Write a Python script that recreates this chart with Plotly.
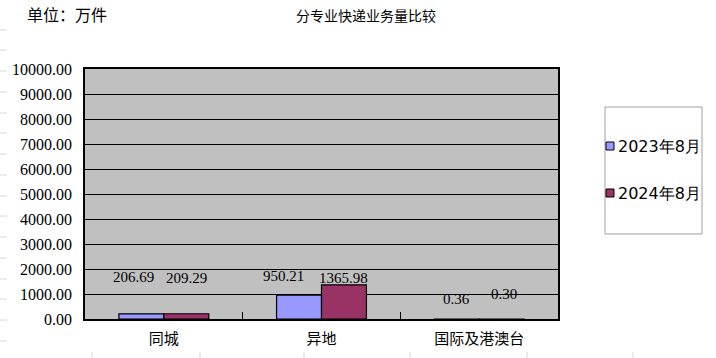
import plotly.graph_objects as go

categories = ["同城", "异地", "国际及港澳台"]
series_names = ["2023年8月", "2024年8月"]
values_2023 = [206.69, 950.21, 0.36]
values_2024 = [209.29, 1365.98, 0.30]
y_ticks = [0, 1000, 2000, 3000, 4000, 5000, 6000, 7000, 8000, 9000, 10000]

# label placement (style only)
label_y_2023 = [1690, 1730, 790]
label_y_2024 = [1630, 1640, 990]
label_dx_2023 = [-30, -38, -23]
label_dx_2024 = [23, 22, 25]

colors = ["#9999FF", "#993366"]
num_font = "Liberation Serif"
cjk_font = "Noto Sans CJK SC"

W, H = 716, 358
L, R, T, B = 85, 158, 69, 39
PW, PH = W - L - R, H - T - B


def px(x):
    return (x - L) / PW


def py(y):
    return (H - B - y) / PH


fig = go.Figure()
for i, (name, vals) in enumerate(zip(series_names, [values_2023, values_2024])):
    fig.add_trace(go.Bar(
        x=categories, y=vals, name=name, showlegend=False,
        marker=dict(color=colors[i], line=dict(color="black", width=1.2)),
    ))

annotations = []
for vals, ly, dx in [(values_2023, label_y_2023, label_dx_2023), (values_2024, label_y_2024, label_dx_2024)]:
    for c, v, y, s in zip(categories, vals, ly, dx):
        annotations.append(dict(
            x=c, y=y, xref="x", yref="y", text=f"{v:.2f}", showarrow=False,
            xshift=s, font=dict(family=num_font, size=15, color="black"),
        ))

annotations.append(dict(
    x=px(25), y=py(14), xref="paper", yref="paper", text="单位：万件", showarrow=False,
    xanchor="left", yanchor="middle", font=dict(family=cjk_font, size=16, color="black"),
))

shapes = []
# legend box
shapes.append(dict(type="rect", xref="paper", yref="paper",
                   x0=px(605), x1=px(702), y0=py(234), y1=py(107),
                   line=dict(color="#A0A0A0", width=1), fillcolor="rgba(0,0,0,0)"))
legend_y = [146, 193]
for name, col, ly in zip(series_names, colors, legend_y):
    shapes.append(dict(type="rect", xref="paper", yref="paper",
                       x0=px(606), x1=px(614), y0=py(ly + 4), y1=py(ly - 4),
                       line=dict(color="black", width=1), fillcolor=col))
    annotations.append(dict(x=px(616), y=py(ly), xref="paper", yref="paper", text=name,
                            showarrow=False, xanchor="left", yanchor="middle",
                            font=dict(family="DejaVu Sans", size=16, color="black")))

# faint background sheet grid marks
for gy in [30, 50, 71, 92, 113, 133, 154, 175, 196, 216, 237, 258, 279, 299, 320, 341]:
    shapes.append(dict(type="line", xref="paper", yref="paper", x0=px(0), x1=px(7),
                       y0=py(gy), y1=py(gy), line=dict(color="#D8D8D8", width=1)))
for gx in [92, 200, 304, 410, 527, 633]:
    shapes.append(dict(type="line", xref="paper", yref="paper", x0=px(gx), x1=px(gx),
                       y0=py(352), y1=py(358), line=dict(color="#D8D8D8", width=1)))

fig.update_layout(
    width=W, height=H,
    margin=dict(l=L, r=R, t=T, b=B, autoexpand=False),
    paper_bgcolor="white",
    plot_bgcolor="#C0C0C0",
    barmode="group",
    bargap=0.43,
    bargroupgap=0,
    title=dict(text="分专业快递业务量比较", x=px(366), xanchor="center", xref="paper",
               y=1 - 16 / H, yanchor="middle",
               font=dict(family=cjk_font, size=14, color="black")),
    showlegend=False,
    annotations=annotations,
    shapes=shapes,
    xaxis=dict(
        showline=True, linecolor="black", linewidth=1.5, mirror=True,
        ticks="inside", tickson="boundaries", ticklen=7, tickcolor="black", tickwidth=1,
        tickfont=dict(family=cjk_font, size=15, color="black"),
        ticklabelstandoff=5,
        showgrid=False,
    ),
    yaxis=dict(
        range=[0, 10000], tickvals=y_ticks, ticktext=[f"{t:.2f}" for t in y_ticks],
        showline=True, linecolor="black", linewidth=1.5, mirror=True,
        showgrid=True, gridcolor="black", gridwidth=1.2,
        tickfont=dict(family=num_font, size=16, color="black"),
        ticks="", zeroline=False, ticklabelstandoff=8,
    ),
)

fig.write_html("out.html", config={"displayModeBar": False},
               post_script="document.body.style.margin='0';")
